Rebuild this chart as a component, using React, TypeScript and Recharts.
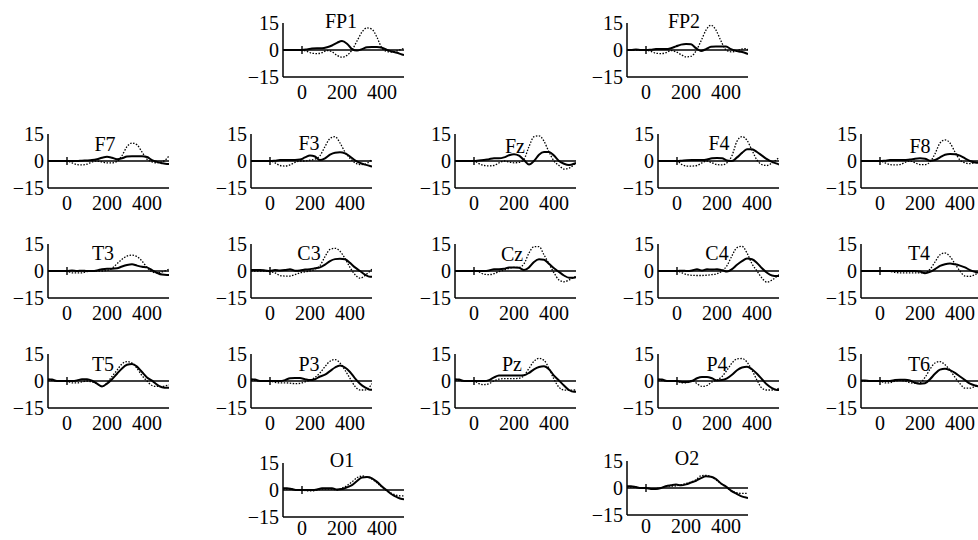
import React from 'react';
import { LineChart, Line, XAxis, YAxis, ReferenceLine, ReferenceDot } from 'recharts';

// time points (ms)
const times = [-95, -75, -50, -25, 0, 25, 50, 75, 100, 125, 150, 175, 200, 225, 250, 275, 300, 325, 350, 375, 400, 425, 450, 475, 500, 510];
const yTicks = [-15, 0, 15];
const xTicks = [0, 200, 400];

// solid / dotted waveforms per electrode (µV)
const fp1Solid = [0, 0, 0, 0, 0, 0.3, 0.8, 1, 1, 1.5, 2.5, 4, 5, 3.5, 0.5, -0.3, 0.5, 1.5, 1.6, 1.6, 1.3, 0, -0.8, -1.5, -2.5, -2.8];
const fp1Dotted = [0, 0, 0, 0, 0, -0.8, -1.8, -2, -1.5, -0.3, -1, -3, -4, -3, 0, 5, 10, 12.3, 11.5, 7, 1, -0.8, -1.2, -0.5, 0.5, 1];
const fp2Solid = [0, 0, 0.3, 0, 0, 0.2, 0.5, 0.5, 0.5, 1, 2, 3, 3.4, 3.2, 1, -0.5, 0.5, 1.8, 2, 2, 1.9, 0.5, -0.5, -1, -1.8, -2.3];
const fp2Dotted = [0, 0, 0, 0, 0, -0.8, -1.8, -2, -1.5, -0.3, -1, -2.5, -3.8, -3.5, -0.5, 5, 11, 13.8, 11, 5, 0, -1, -0.8, 0.5, 0.8, 0];
const f7Solid = [0, 0, 0, 0, 0, 0, 0, 0.2, 0.3, 0.5, 1, 1.8, 2.3, 1.8, 1, 1.5, 2.5, 2.7, 2.7, 2.6, 2.2, 0.5, -0.5, -1.2, -1.6, -1.6];
const f7Dotted = [0, 0, 0, 0, 0, -1, -2, -2.2, -1.8, -0.5, 0, -0.5, -1, -1, -0.2, 3, 8, 10, 9, 5, 1, -0.5, -1, -0.5, 1.5, 3];
const f3Solid = [0, 0, 0, 0, 0, 0.2, 0.5, 0.5, 0.6, 0.6, 0.8, 2, 3.1, 2.5, 0.5, 1.5, 3.5, 4.6, 4.8, 4.2, 2.5, 0.3, -1, -2, -2.8, -3];
const f3Dotted = [0, 0, 0, 0, 0, -1, -2.5, -2.8, -2.2, -0.8, 0, 0, 0.5, 1, 3, 8, 12.5, 13.5, 10, 5, 1.5, -1, -2, -1.8, 0, 1];
const fzSolid = [0, 0, 0, 0, 0, 0.3, 0.5, 1, 1.5, 1.5, 2, 3.2, 3.8, 3, 0.5, -2, 0, 3.5, 5, 5, 3, 0, -1.5, -2.2, -1.5, -1];
const fzDotted = [0, 0, 0, 0, 0, -1.5, -2.5, -2.7, -2.5, -1, 0, -0.5, -1, -0.8, 1, 8, 13.5, 14, 11, 5, 0, -2.5, -4.5, -4, -2, -1];
const f4Solid = [0, 0, 0, 0, 0, 0.2, 0.4, 0.5, 0.5, 0.5, 0.8, 1.5, 1.6, 1.5, 0.3, 0, 2, 4.5, 6.5, 6.5, 5, 3, 1, -0.5, -1.5, -2];
const f4Dotted = [0, 0, 0, 0, 0, -2, -2.8, -2.8, -2.5, -1, 0, -1, -2, -2.2, -1, 3, 11, 13.5, 11.5, 6, 0.5, -2, -2.5, -1, 1, 2];
const f8Solid = [0, 0, 0, 0, 0, 0.2, 0.5, 0.5, 0.5, 0.6, 0.8, 1.3, 1.5, 1.3, 0.2, 0.5, 2, 3.5, 3.9, 3.8, 3, 1.5, 0, -0.8, -1, -1];
const f8Dotted = [0, 0, 0, 0, 0, -1, -2, -2.2, -2, -0.8, 0, -1, -2, -2, -0.5, 4, 10, 11.7, 10, 5, 0.5, -1, -1.5, -0.8, 0, 0.5];
const t3Solid = [0, 0, 0, 0, 0, 0.3, 0, 0.2, 0, 0, 0.3, 1, 1.3, 1.3, 1.5, 2.5, 3.3, 3.7, 3, 2.4, 2, 0.5, -1, -2, -2.2, -2.2];
const t3Dotted = [0, 0, 0, 0, 0, -1, -1, -1, -0.3, 0, 0, 0, 0.3, 1.5, 4, 6.5, 8.3, 8.8, 8, 5.5, 2, -0.5, -1, -0.5, 0.5, 1];
const c3Solid = [0.5, 0.5, 0.5, 0.3, 0, 0.5, 0.3, 0.5, 1, 0.2, 0.3, 0.8, 1, 1.5, 2, 3.5, 5.5, 6.6, 6.8, 6.5, 4.5, 2, 0, -2, -3.2, -3.2];
const c3Dotted = [0, 0, 0, 0, -0.5, -1, -2.5, -2.8, -2.8, -2, -1, -0.5, 0, 1, 3, 8, 12, 12.6, 11, 7, 2, -2, -4, -2.5, 0, 1];
const czSolid = [0, 0, 0, 0, 0, 0, 0, 0.3, 1, 1, 1.2, 2, 2, 1.8, 0.5, 2, 5, 6.5, 6.3, 4, 1.5, -0.5, -2.5, -3.7, -3.7, -3.5];
const czDotted = [0, 0, 0, 0, 0, -0.5, -1.8, -2, -1.5, -0.3, 0.5, 1.5, 2, 2, 4, 10, 13.5, 13.5, 9, 4, -1, -5, -6, -5, -3.5, -3];
const c4Solid = [0, 0, 0, 0, 0, 0.2, 0, 0.3, 1, 0.3, 1, 0.8, 1, 0.5, -0.3, 1, 3.5, 5.5, 6.9, 6.5, 4.5, 1.5, -1, -2.5, -2.8, -2.8];
const c4Dotted = [0, 0, 0, 0, 0, -1, -2, -2.4, -2.5, -2.5, -2.3, -2, -1.5, 0, 3, 8.5, 13, 13.7, 10, 4, 0, -4, -6.2, -5, -3, -2];
const t4Solid = [0, 0, 0, 0, 0, 0, 0, 0, 0, 0, 0, 0, -0.3, -1.2, -0.5, 1, 2.8, 3.8, 4.1, 3.7, 3, 2, 0.5, -0.5, -1, -1];
const t4Dotted = [0, 0, 0, 0, 0, 0, -0.3, -0.8, -1, -1, -1, -1, -1, -1, 1, 5, 9, 10, 8, 4, 0, -2.8, -3, -2, -0.5, 0];
const t5Solid = [1, 0.8, 0, 0, 0, 0, 0.3, 1, 1, 0.2, -1.5, -3, -1.5, 1, 4, 7, 9, 9.5, 8, 5, 2, 0.2, -2, -3.5, -3.8, -3.8];
const t5Dotted = [0.5, 0.3, 0, 0, 0, -1, -1, -0.5, 0, -0.5, -1.5, -3, -1, 2.5, 6, 9.5, 10.8, 10, 7, 3, 0, -2.5, -3, -3, -2.5, -2.2];
const p3Solid = [1, 0.8, 0, 0, 0, 0, 0, 0.5, 1.5, 1.6, 1.6, 1, 0.5, 1, 2.5, 3.5, 5.5, 7.5, 8.6, 7.5, 5, 1.5, -1.5, -3.5, -4.8, -4.8];
const p3Dotted = [0.5, 0.3, 0, 0, 0, -0.8, -1, -1, -1.2, -1.5, -1.3, -0.5, 0.5, 2, 4.5, 8, 11, 11.9, 10, 6, 1.5, -3, -5, -5, -3, -1.5];
const pzSolid = [1, 0.8, 0, 0, 0, 0, 0, 0.5, 2, 3, 3.1, 3.1, 3, 3, 3.2, 4.5, 6.5, 7.8, 8.2, 6.5, 3, 0.3, -2.5, -5, -6, -6];
const pzDotted = [0.5, 0.3, 0, 0, 0, -1.5, -2, -1.5, 0, 1, 1.3, 1.3, 1.3, 1.5, 3, 7, 11, 12.6, 11.5, 7, 1, -3.5, -5, -5.1, -5, -5];
const p4Solid = [1, 0.8, 0, 0, 0, -0.5, -0.5, 0, 1.5, 2.2, 2.2, 1.5, 0.3, 0.5, 1.5, 3.5, 6, 7.5, 7.9, 6.5, 4, 1, -2, -4, -5, -5];
const p4Dotted = [0.5, 0.3, 0, 0, 0, -1, -1, 0.3, -1.5, -3, -2.5, -0.5, 0.5, 2.5, 6, 10, 12.3, 12.5, 10.5, 6, 0.5, -4, -5, -5, -4.5, -4];
const t6Solid = [0.3, 0.3, 0, 0, 0, 0, 0, 0.5, 0.7, 0.7, 0.3, -1, -1.5, -1.3, 1, 4, 6.3, 6.8, 6, 4.5, 2.5, 0.5, -1.5, -2.5, -3, -3];
const t6Dotted = [0, 0, 0, 0, 0, -1, -1, 0, 0.3, 0, -1, -1.2, -1, 2, 6.5, 10, 10.8, 9, 6, 2, -1.5, -4, -4, -3, -2.5, -2];
const o1Solid = [1, 1, 0.5, 0, 0, 0, 0, 0.3, 1, 1, 1, 0.3, 0.5, 1.5, 2.7, 5, 7, 7.2, 6.5, 4.5, 2, -0.3, -2.5, -4, -5, -5.1];
const o1Dotted = [0.5, 0.5, 0.3, 0, 0, -0.5, -0.5, 0, 0.5, 0.5, 0.5, 0, 1, 2.5, 4.5, 6.8, 7.8, 7.2, 6, 4, 1.5, -0.5, -2, -3, -3.3, -3.3];
const o2Solid = [1, 1, 0.5, 0, 0, -0.5, -0.5, 0, 1, 1.5, 1.9, 1.5, 2, 3, 4, 5.5, 6.5, 6.3, 5, 2.5, 0.8, -1.5, -3, -4.5, -5.3, -5.5];
const o2Dotted = [0.5, 0.5, 0.3, 0, 0, -0.3, -0.3, 0, 1, 1, 1.2, 1.8, 2.5, 3.3, 4.5, 6.8, 7, 6.3, 4.5, 2.5, 0.5, -1.5, -2.5, -3, -3, -3];

const panels = [
  { name: 'FP1', solid: fp1Solid, dotted: fp1Dotted, left: 283, zero: 50, tx: 195, ty: 16 },
  { name: 'FP2', solid: fp2Solid, dotted: fp2Dotted, left: 627, zero: 50, tx: 190, ty: 16 },
  { name: 'F7', solid: f7Solid, dotted: f7Dotted, left: 48, zero: 161, tx: 190, ty: 9.5 },
  { name: 'F3', solid: f3Solid, dotted: f3Dotted, left: 251, zero: 161, tx: 195, ty: 10 },
  { name: 'Fz', solid: fzSolid, dotted: fzDotted, left: 455, zero: 161, tx: 205, ty: 8.5 },
  { name: 'F4', solid: f4Solid, dotted: f4Dotted, left: 658, zero: 161, tx: 210, ty: 10 },
  { name: 'F8', solid: f8Solid, dotted: f8Dotted, left: 861, zero: 161, tx: 200, ty: 8.5 },
  { name: 'T3', solid: t3Solid, dotted: t3Dotted, left: 48, zero: 271, tx: 180, ty: 10 },
  { name: 'C3', solid: c3Solid, dotted: c3Dotted, left: 251, zero: 271, tx: 195, ty: 10 },
  { name: 'Cz', solid: czSolid, dotted: czDotted, left: 455, zero: 271, tx: 190, ty: 9.5 },
  { name: 'C4', solid: c4Solid, dotted: c4Dotted, left: 658, zero: 271, tx: 200, ty: 10 },
  { name: 'T4', solid: t4Solid, dotted: t4Dotted, left: 861, zero: 271, tx: 195, ty: 10 },
  { name: 'T5', solid: t5Solid, dotted: t5Dotted, left: 48, zero: 381, tx: 180, ty: 9.5 },
  { name: 'P3', solid: p3Solid, dotted: p3Dotted, left: 251, zero: 381, tx: 195, ty: 9.5 },
  { name: 'Pz', solid: pzSolid, dotted: pzDotted, left: 455, zero: 381, tx: 190, ty: 9.5 },
  { name: 'P4', solid: p4Solid, dotted: p4Dotted, left: 658, zero: 381, tx: 200, ty: 9.5 },
  { name: 'T6', solid: t6Solid, dotted: t6Dotted, left: 861, zero: 381, tx: 195, ty: 9.5 },
  { name: 'O1', solid: o1Solid, dotted: o1Dotted, left: 283, zero: 490, tx: 200, ty: 16.5 },
  { name: 'O2', solid: o2Solid, dotted: o2Dotted, left: 627, zero: 488, tx: 205, ty: 16.5 },
];

const FONT = '"Liberation Serif", "Times New Roman", serif';
const Y_AXIS_W = 44;
const TOP = 18;
const PLOT_W = 121;
const PLOT_H = 54;
const X_AXIS_H = 26;

const fmt = (v: number) => String(v).replace('-', '\u2212');

function Panel({ p }: { p: (typeof panels)[number] }) {
  const data = times.map((t, i) => ({ t, s: p.solid[i], d: p.dotted[i] }));
  const bottomRow = p.zero > 450;
  return (
    <div style={{ position: 'absolute', left: p.left - Y_AXIS_W, top: p.zero - PLOT_H / 2 - TOP }}>
      <LineChart
        width={Y_AXIS_W + PLOT_W + 5}
        height={TOP + PLOT_H + X_AXIS_H}
        data={data}
        margin={{ top: TOP, right: 5, bottom: 0, left: 0 }}
      >
        <XAxis
          dataKey="t"
          type="number"
          domain={[-95, 510]}
          ticks={xTicks}
          interval={0}
          allowDataOverflow
          height={X_AXIS_H}
          tickLine={false}
          tickSize={0}
          tickMargin={bottomRow ? 4 : 8}
          axisLine={{ stroke: '#000', strokeWidth: 1.5 }}
          tick={{ fontSize: 20, fontFamily: FONT, fill: '#000' }}
        />
        <YAxis
          type="number"
          domain={[-15, 15]}
          ticks={yTicks}
          interval={0}
          allowDataOverflow
          width={Y_AXIS_W}
          tickLine={false}
          tickSize={0}
          tickMargin={4}
          tickFormatter={fmt}
          axisLine={{ stroke: '#000', strokeWidth: 1.5 }}
          tick={{ fontSize: 20, fontFamily: FONT, fill: '#000' }}
        />
        <ReferenceLine y={0} stroke="#000" strokeWidth={1.4} />
        <ReferenceLine segment={[{ x: 0, y: -2.2 }, { x: 0, y: 2.2 }]} stroke="#000" strokeWidth={1.4} />
        <Line type="monotone" dataKey="d" stroke="#000" strokeWidth={1.3} strokeDasharray="1.5 1.5" dot={false} isAnimationActive={false} />
        <Line type="monotone" dataKey="s" stroke="#000" strokeWidth={2} dot={false} isAnimationActive={false} />
        <ReferenceDot
          x={p.tx}
          y={p.ty}
          r={0}
          fill="none"
          stroke="none"
          ifOverflow="visible"
          label={{ value: p.name, position: 'center', fontSize: 20, fontFamily: FONT, fill: '#000' }}
        />
      </LineChart>
    </div>
  );
}

export default function App() {
  return (
    <div style={{ position: 'absolute', left: 0, top: 0, width: 978, height: 540, overflow: 'hidden', background: '#fff' }}>
      {panels.map((p) => (
        <Panel key={p.name} p={p} />
      ))}
    </div>
  );
}
